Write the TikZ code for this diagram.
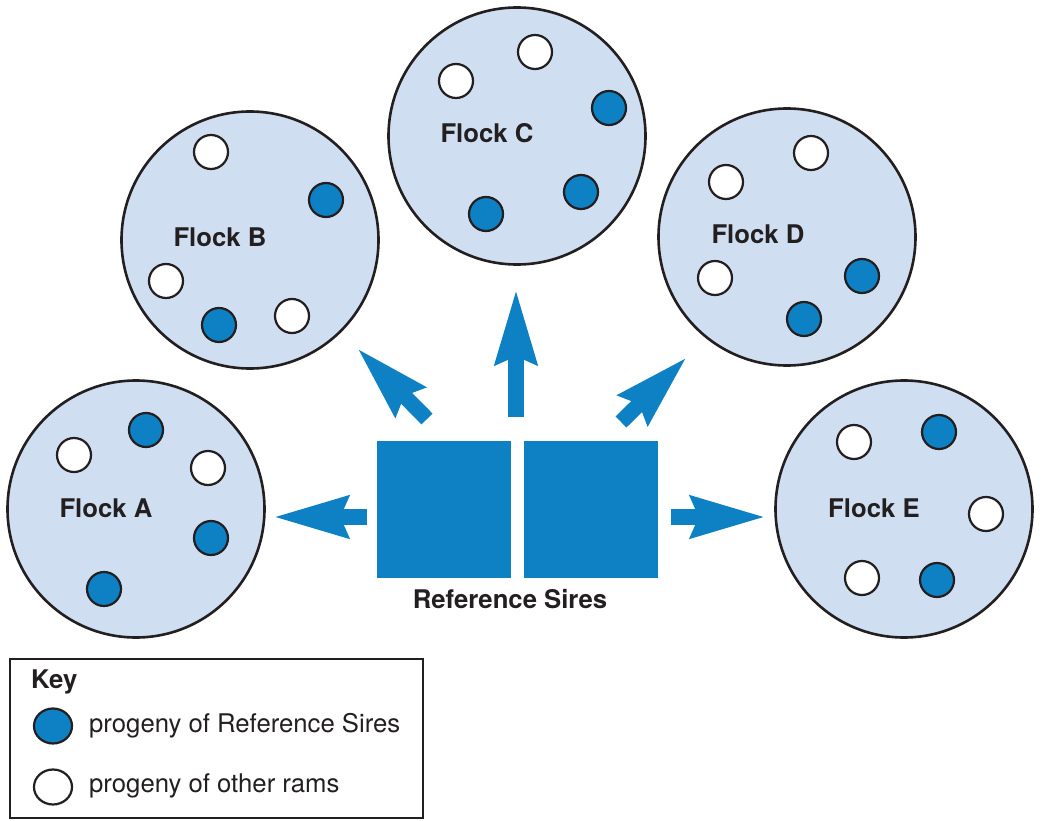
\documentclass[tikz,border=0pt]{standalone}
\usepackage{fontspec}
\setmainfont{TeX Gyre Heros}
\usetikzlibrary{arrows.meta,shapes.geometric}
\definecolor{sireblue}{RGB}{14,129,197}
\definecolor{flockfill}{RGB}{207,222,240}
\definecolor{inkline}{RGB}{35,31,32}

\begin{document}
\begin{tikzpicture}[x=1pt,y=-1pt,
  flock/.style={circle, draw=inkline, line width=2.6pt, fill=flockfill,
    minimum size=257pt, inner sep=0pt},
  lamb/.style={circle, draw=inkline, line width=2.2pt, minimum size=34pt, inner sep=0pt},
  refl/.style={lamb, fill=sireblue},
  othr/.style={lamb, fill=white},
  flocktxt/.style={font=\fontsize{25.7}{30}\selectfont\bfseries, text=inkline,
    inner sep=0pt, anchor=base},
  keytxt/.style={font=\fontsize{25.7}{30}\selectfont, text=inkline,
    inner sep=0pt, anchor=base west},
  sirebox/.style={rectangle, fill=sireblue, minimum width=134pt, minimum height=137pt,
    inner sep=0pt},
  fatarrow/.style={draw=sireblue, line width=15.5pt,
    -{Stealth[length=74pt, width=40pt, inset=7pt, sep=0pt]}},
  keyball/.style={ellipse, draw=inkline, line width=2.2pt, minimum width=38pt,
    minimum height=35pt, inner sep=0pt}
]
\useasboundingbox (0,0) rectangle (1041,821);

% flocks
\node[flock] (flockA) at (136,509) {};
\node[flock] (flockB) at (250,240) {};
\node[flock] (flockC) at (517,136) {};
\node[flock] (flockD) at (787,237) {};
\node[flock] (flockE) at (904,509) {};

% flock names
\node[flocktxt] (nameA) at (106,517) {Flock A};
\node[flocktxt] (nameB) at (220,247) {Flock B};
\node[flocktxt] (nameC) at (487,143) {Flock C};
\node[flocktxt] (nameD) at (758,243) {Flock D};
\node[flocktxt] (nameE) at (874,517) {Flock E};

% Flock A lambs
\node[othr] (a1) at (74,455) {};
\node[refl] (a2) at (146,430) {};
\node[othr] (a3) at (208,468) {};
\node[refl] (a4) at (211,538) {};
\node[refl] (a5) at (104,589) {};

% Flock B lambs
\node[othr] (b1) at (211,152) {};
\node[refl] (b2) at (326,200) {};
\node[othr] (b3) at (166,281) {};
\node[refl] (b4) at (219,325) {};
\node[othr] (b5) at (292,316) {};

% Flock C lambs
\node[othr] (c1) at (535,52) {};
\node[othr] (c2) at (456,81) {};
\node[refl] (c3) at (609,108) {};
\node[refl] (c4) at (581,192) {};
\node[refl] (c5) at (486,214) {};

% Flock D lambs
\node[othr] (d1) at (811,153) {};
\node[othr] (d2) at (726,182) {};
\node[othr] (d3) at (715,278) {};
\node[refl] (d4) at (862,276) {};
\node[refl] (d5) at (804,319) {};

% Flock E lambs
\node[othr] (e1) at (854,442) {};
\node[refl] (e2) at (939,432) {};
\node[othr] (e3) at (986,514) {};
\node[othr] (e4) at (862,578) {};
\node[refl] (e5) at (937,580) {};

% reference sires
\node[sirebox] (sireL) at (444,509.5) {};
\node[sirebox] (sireR) at (591,509.5) {};
\node[flocktxt] (sirename) at (510,608) {Reference Sires};

% arrow ends
\coordinate (toAs) at (367,517);  \coordinate (toAt) at (273,517);
\coordinate (toBs) at (427,419);  \coordinate (toBt) at (357,348);
\coordinate (toCs) at (516,417);  \coordinate (toCt) at (516,289);
\coordinate (toDs) at (621,422);  \coordinate (toDt) at (687,357);
\coordinate (toEs) at (671,517);  \coordinate (toEt) at (766,517);

\draw[fatarrow] (toAs) -- (toAt);
\draw[fatarrow] (toBs) -- (toBt);
\draw[fatarrow] (toCs) -- (toCt);
\draw[fatarrow] (toDs) -- (toDt);
\draw[fatarrow] (toEs) -- (toEt);

% key
\draw[draw=inkline, line width=2pt] (10,659) rectangle (423,818);
\node[font=\fontsize{25.7}{30}\selectfont\bfseries, text=inkline, inner sep=0pt,
  anchor=base west] (keyhead) at (31,688) {Key};
\node[keyball, fill=sireblue] (keyref) at (53,726) {};
\node[keyball, fill=white] (keyoth) at (53,787) {};
\node[keytxt] (keyreftxt) at (89,732) {progeny of Reference Sires};
\node[keytxt] (keyothtxt) at (89,792) {progeny of other rams};
\end{tikzpicture}
\end{document}
